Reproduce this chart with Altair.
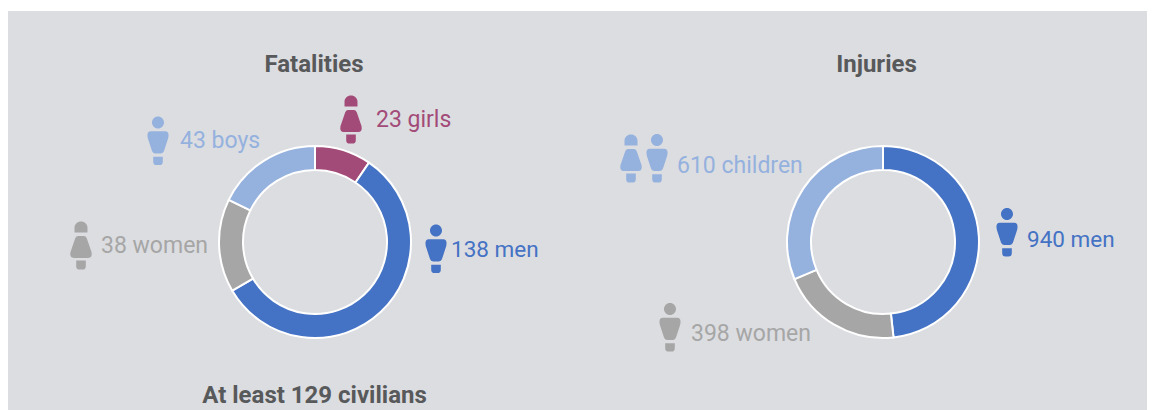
import altair as alt
import pandas as pd

FONT = "Roboto"
BLUE, LIGHT, GREY, PLUM = "#4472C4", "#95B1DE", "#A6A6A6", "#A34B78"
INK = "#58595B"
PANEL = "#DCDDE1"

# chart values
fat_categories = ["girls", "men", "women", "boys"]
fat_values = [23, 138, 38, 43]
fat_colors = [PLUM, BLUE, GREY, LIGHT]
inj_categories = ["men", "women", "children"]
inj_values = [940, 398, 610]
inj_colors = [BLUE, GREY, LIGHT]
titles = ["Fatalities", "Injuries", "At least 129 civilians"]
fat_labels = ["23 girls", "138 men", "38 women", "43 boys"]
inj_labels = ["940 men", "398 women", "610 children"]

OX, OY = 8, 8  # page margin
W, H = 1139, 402

MALE = ("M-0.25 -0.77A0.25 0.25 0 1 1 0.25 -0.77A0.25 0.25 0 1 1 -0.25 -0.77Z"
        "M-0.3 -0.41L0.3 -0.41Q0.44 -0.41 0.44 -0.24Q0.44 -0.14 0.4 -0.04"
        "L0.25 0.42Q0.22 0.52 0.12 0.52L-0.12 0.52Q-0.22 0.52 -0.25 0.42L-0.4 -0.04"
        "Q-0.44 -0.14 -0.44 -0.24Q-0.44 -0.41 -0.3 -0.41Z"
        "M-0.2 0.66L0.2 0.66L0.2 0.86Q0.2 1 0.06 1L-0.06 1Q-0.2 1 -0.2 0.86Z")
FEMALE = ("M-0.27 -0.54L-0.27 -0.75A0.27 0.25 0 0 1 0.27 -0.75L0.27 -0.54Z"
          "M-0.12 -0.4L0.12 -0.4Q0.2 -0.4 0.24 -0.3L0.44 0.28Q0.48 0.52 0.3 0.52"
          "L-0.3 0.52Q-0.48 0.52 -0.44 0.28L-0.24 -0.3Q-0.2 -0.4 -0.12 -0.4Z"
          "M-0.2 0.63L0.2 0.63L0.2 0.86Q0.2 1 0.06 1L-0.06 1Q-0.2 1 -0.2 0.86Z")

BASE = pd.DataFrame({"k": [0]})


def ring(cats, vals, cols, cx, cy, outer=96, inner=72):
    df = pd.DataFrame({"cat": cats, "value": vals, "col": cols, "ord": range(len(cats))})
    return (
        alt.Chart(df)
        .transform_joinaggregate(total="sum(value)")
        .transform_calculate(share="datum.value / datum.total")
        .mark_arc(radius=outer, radius2=inner, stroke="white", strokeWidth=2)
        .encode(
            theta=alt.Theta("share:Q", stack=True, scale=alt.Scale(domain=[0, 1])),
            order=alt.Order("ord:Q"),
            color=alt.Color("col:N", scale=None),
            x=alt.value(cx - OX),
            y=alt.value(cy - OY),
        )
    )


def text(s, x, y, color, size=23, bold=False, align="left"):
    return (
        alt.Chart(pd.DataFrame({"t": [s]}))
        .mark_text(font=FONT, fontSize=size, fontWeight="bold" if bold else "normal",
                   color=color, align=align, baseline="middle")
        .encode(text="t:N", x=alt.value(x - OX), y=alt.value(y - OY))
    )


def icon(path, x, y, color):
    return (
        alt.Chart(BASE)
        .mark_point(shape=path, size=48 ** 2, filled=True, opacity=1, color=color, strokeWidth=0)
        .encode(x=alt.value(x - OX), y=alt.value(y - OY))
    )


panel = (
    alt.Chart(BASE)
    .mark_rect(color=PANEL)
    .encode(x=alt.value(0), x2=alt.value(W), y=alt.value(3), y2=alt.value(H))
)

layers = [
    panel,
    ring(fat_categories, fat_values, fat_colors, 315, 242),
    ring(inj_categories, inj_values, inj_colors, 883, 242),
    text(titles[0], 314, 65, INK, 24, True, "center"),
    text(titles[1], 876.5, 65, INK, 24, True, "center"),
    text(titles[2], 314.5, 396, INK, 24, True, "center"),
    icon(FEMALE, 351, 119.5, PLUM),
    text(fat_labels[0], 376, 120, PLUM),
    icon(MALE, 436, 249, BLUE),
    text(fat_labels[1], 451, 250, BLUE, 22.5),
    icon(FEMALE, 81, 245.5, GREY),
    text(fat_labels[2], 101, 246, GREY),
    icon(MALE, 158, 141, LIGHT),
    text(fat_labels[3], 180, 141, LIGHT),
    icon(MALE, 1007, 232.5, BLUE),
    text(inj_labels[0], 1027, 240, BLUE, 22.5),
    icon(MALE, 670, 327.5, GREY),
    text(inj_labels[1], 691, 334, GREY),
    icon(FEMALE, 631, 158.5, LIGHT),
    icon(MALE, 657, 158.5, LIGHT),
    text(inj_labels[2], 677, 166, LIGHT),
]

chart = (
    alt.layer(*layers)
    .properties(width=W, height=H, padding=0, background="white",
                autosize=alt.AutoSizeParams(type="none"))
    .configure_view(stroke=None)
)
chart.save("out.html", embed_options={"renderer": "svg", "actions": False})
